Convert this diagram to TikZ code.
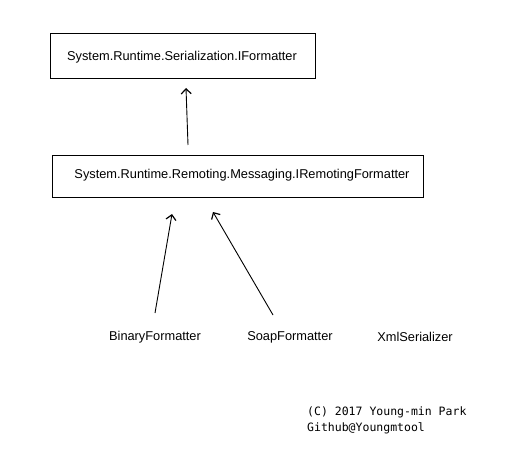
\documentclass[tikz,border=0pt]{standalone}
\usepackage{fontspec}
\setmainfont{Liberation Sans}
\newfontfamily\monofont{DejaVu Sans Mono}
\usetikzlibrary{arrows.meta}
\begin{document}
\begin{tikzpicture}[x=1pt,y=-1pt,
  box/.style={draw,line width=1pt,inner sep=0pt,anchor=north west},
  lbl/.style={font=\fontsize{12.8}{14}\selectfont},
  cpy/.style={font=\monofont\fontsize{11.5}{16}\selectfont,align=left,anchor=north west,inner sep=0pt},
  inh/.style={line width=0.9pt,-{Straight Barb[length=5pt,width=10pt,line width=1.2pt]}}]
\useasboundingbox[fill=white] (0,0) rectangle (513,457);
\node[box,minimum width=265pt,minimum height=45pt] (ifmt) at (50,33) {};
\node[lbl] (ifmtt) at (182,57) {System.Runtime.Serialization.IFormatter};
\node[box,minimum width=371pt,minimum height=42pt] (irfmt) at (52,155) {};
\node[lbl] (irfmtt) at (242,175) {System.Runtime.Remoting.Messaging.IRemotingFormatter};
\node[lbl] (bin) at (155,337) {BinaryFormatter};
\node[lbl] (soap) at (290,337) {SoapFormatter};
\node[lbl] (xml) at (415,337) {XmlSerializer};
\node[cpy] (copy) at (307,407) {(C) 2017 Young-min Park\\Github@Youngmtool};
\coordinate (a1s) at (188,145);
\coordinate (a1e) at (186,88);
\coordinate (a2s) at (155,313);
\coordinate (a2e) at (172,214);
\coordinate (a3s) at (273,315);
\coordinate (a3e) at (213,212);
\draw[inh] (a1s) -- (a1e);
\draw[inh] (a2s) -- (a2e);
\draw[inh] (a3s) -- (a3e);
\end{tikzpicture}
\end{document}
